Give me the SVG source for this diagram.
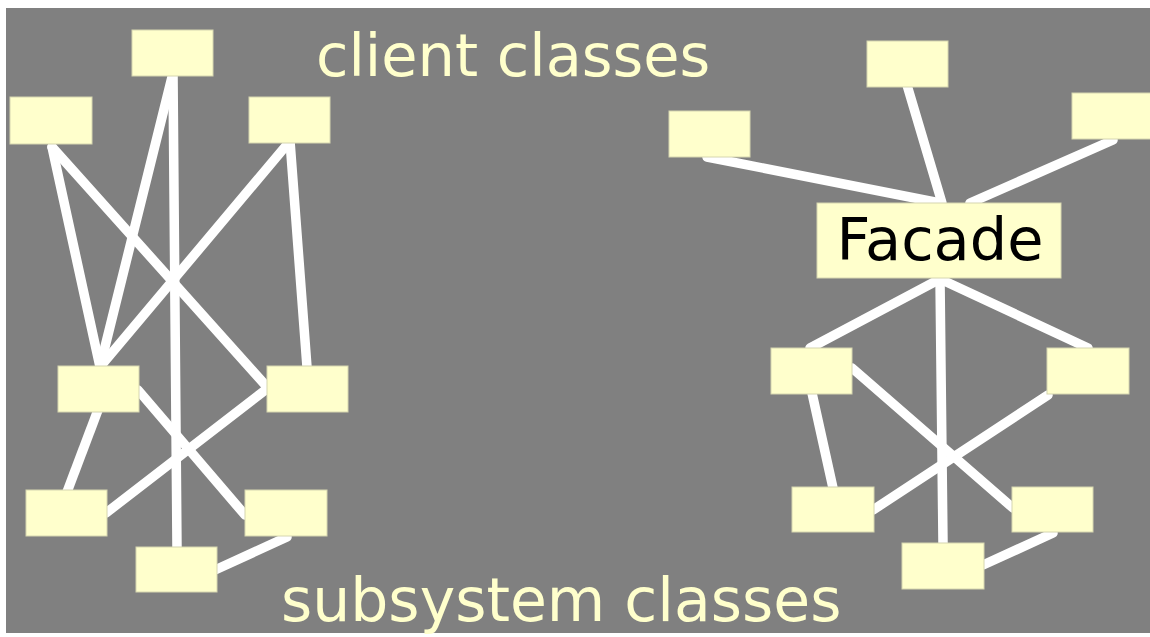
<svg xmlns="http://www.w3.org/2000/svg" width="1150" height="637" viewBox="0 0 1150 637">
<style>
.bg{fill:#808080}
.box{fill:#FFFFCC;stroke:#d6d6b0;stroke-width:1}
.ln{stroke:#FFFFFF;stroke-width:9.5;stroke-linecap:round;fill:none}
.title{font-family:"DejaVu Sans",Verdana,sans-serif;font-size:59px;fill:#FFFFCC}
.lbl{font-family:"DejaVu Sans",Verdana,sans-serif;font-size:59px;fill:#000000}
</style>
<rect class="bg" x="6" y="8" width="1144" height="625"/>
<g id="connectors">
<line class="ln" x1="52" y1="147" x2="100" y2="367"/>
<line class="ln" x1="52" y1="147" x2="268" y2="388"/>
<line class="ln" x1="173" y1="73" x2="100" y2="367"/>
<line class="ln" x1="173" y1="73" x2="177" y2="548"/>
<line class="ln" x1="290" y1="141" x2="100" y2="367"/>
<line class="ln" x1="290" y1="141" x2="307" y2="367"/>
<line class="ln" x1="138" y1="390" x2="245" y2="515"/>
<line class="ln" x1="98" y1="410" x2="67" y2="492"/>
<line class="ln" x1="106" y1="513" x2="268" y2="388"/>
<line class="ln" x1="215" y1="570" x2="287" y2="537"/>
<line class="ln" x1="707" y1="157" x2="940" y2="203"/>
<line class="ln" x1="907" y1="85" x2="942" y2="203"/>
<line class="ln" x1="1113" y1="140" x2="970" y2="203"/>
<line class="ln" x1="940" y1="279" x2="810" y2="348"/>
<line class="ln" x1="940" y1="279" x2="1088" y2="348"/>
<line class="ln" x1="940" y1="279" x2="943" y2="543"/>
<line class="ln" x1="812" y1="393" x2="833" y2="488"/>
<line class="ln" x1="852" y1="368" x2="1013" y2="508"/>
<line class="ln" x1="1048" y1="395" x2="873" y2="510"/>
<line class="ln" x1="983" y1="565" x2="1053" y2="533"/>
</g>
<g id="client-top"><rect class="box" x="132" y="30" width="81" height="46"/></g>
<g id="client-left"><rect class="box" x="10" y="97" width="82" height="47"/></g>
<g id="client-right"><rect class="box" x="249" y="97" width="81" height="46"/></g>
<g id="sub-midleft"><rect class="box" x="58" y="366" width="81" height="46"/></g>
<g id="sub-midright"><rect class="box" x="267" y="366" width="81" height="46"/></g>
<g id="sub-botleft"><rect class="box" x="26" y="490" width="81" height="46"/></g>
<g id="sub-botright"><rect class="box" x="245" y="490" width="82" height="46"/></g>
<g id="sub-botcenter"><rect class="box" x="136" y="547" width="81" height="45"/></g>
<g id="r-client-left"><rect class="box" x="669" y="111" width="81" height="46"/></g>
<g id="r-client-top"><rect class="box" x="867" y="41" width="81" height="46"/></g>
<g id="r-client-right"><rect class="box" x="1072" y="93" width="81" height="46"/></g>
<g id="facade"><rect class="box" x="817" y="203" width="244" height="75"/><text class="lbl" x="940" y="260" text-anchor="middle">Facade</text></g>
<g id="r-sub-midleft"><rect class="box" x="771" y="348" width="81" height="46"/></g>
<g id="r-sub-midright"><rect class="box" x="1047" y="348" width="82" height="46"/></g>
<g id="r-sub-botleft"><rect class="box" x="792" y="487" width="82" height="45"/></g>
<g id="r-sub-botright"><rect class="box" x="1012" y="487" width="81" height="45"/></g>
<g id="r-sub-botcenter"><rect class="box" x="902" y="543" width="82" height="46"/></g>
<text class="title" x="316" y="76">client classes</text>
<text class="title" x="281" y="621" style="font-size:60px">subsystem classes</text>
</svg>
